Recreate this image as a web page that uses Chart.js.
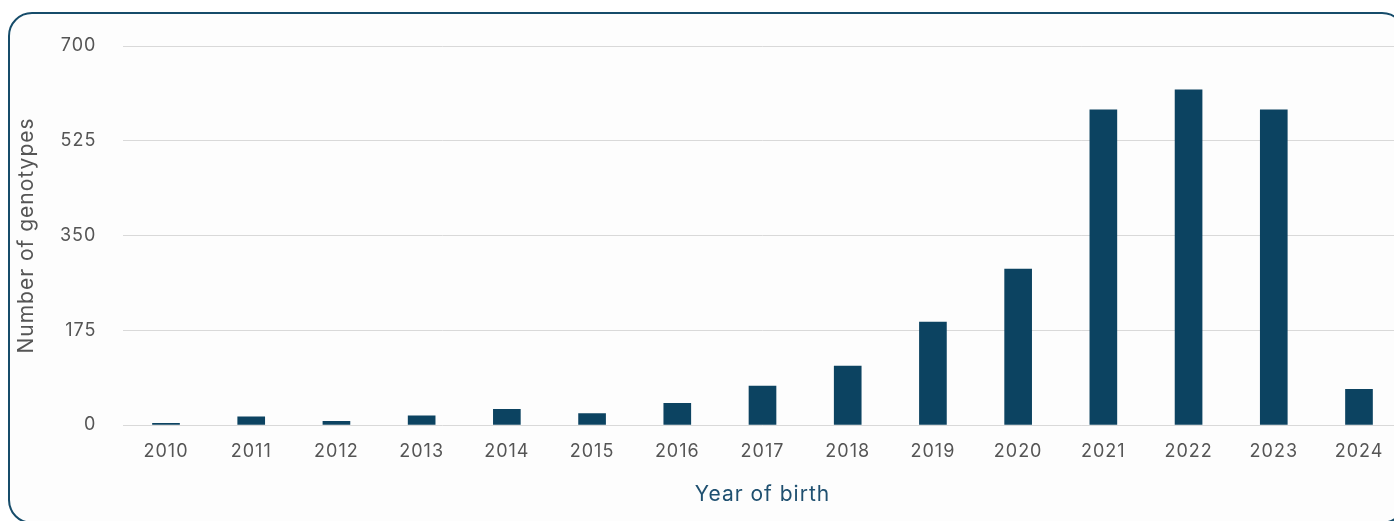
<!DOCTYPE html>
<html>
<head>
<meta charset="utf-8">
<script src="https://cdn.jsdelivr.net/npm/chart.js@4.4.1/dist/chart.umd.min.js"></script>
<style>
  html, body { margin: 0; padding: 0; background: #ffffff; overflow: hidden; width: 1394px; height: 521px; }
  #box {
    position: absolute; left: 8px; top: 12px; width: 1398px; height: 512px;
    border: 2.5px solid #164c6a; border-radius: 24px; background: #fdfdfd; box-sizing: border-box;
  }
  #wrap { position: absolute; left: 0; top: 0; width: 1410px; height: 521px; }
</style>
</head>
<body>
<div id="box"></div>
<div id="wrap"><canvas id="c"></canvas></div>
<script>
const categories = ['2010','2011','2012','2013','2014','2015','2016','2017','2018','2019','2020','2021','2022','2023','2024'];
const genotypes = [3, 15, 7, 17, 29, 21, 40, 72, 109, 190, 288, 582, 619, 582, 66];
const yTickValues = [0, 175, 350, 525, 700];
const xTitle = 'Year of birth';
const yTitle = 'Number of genotypes';

Chart.defaults.font.family = 'Inter, "DejaVu Sans", sans-serif';

const spacingPlugin = {
  id: 'spacing',
  beforeDraw(chart) { chart.ctx.letterSpacing = '1px'; }
};

new Chart(document.getElementById('c'), {
  type: 'bar',
  data: {
    labels: categories,
    datasets: [{
      data: genotypes,
      backgroundColor: '#0c4361',
      barThickness: 27
    }]
  },
  plugins: [spacingPlugin],
  options: {
    responsive: true,
    maintainAspectRatio: false,
    animation: false,
    layout: { padding: { top: 46, right: 8.4, bottom: 0, left: 0 } },
    plugins: { legend: { display: false }, tooltip: { enabled: false } },
    scales: {
      x: {
        grid: { display: false },
        border: { display: false },
        ticks: { color: '#555555', font: { size: 18 }, padding: 8, maxRotation: 0 },
        title: { display: true, text: xTitle, color: '#1f5070', font: { size: 21 }, padding: { top: 0, bottom: 13.5 } },
        afterFit(s) { s.height = 96; }
      },
      y: {
        min: 0, max: 700,
        afterBuildTicks(s) { s.ticks = yTickValues.map(v => ({ value: v })); },
        grid: { color: '#d9d9d9', lineWidth: 1, drawTicks: false },
        border: { display: false },
        ticks: { color: '#555555', font: { size: 18 }, padding: 27 },
        title: { display: true, text: yTitle, color: '#555555', font: { size: 21 }, padding: { top: 14, bottom: 0 } },
        afterFit(s) { s.width = 123.4; }
      }
    }
  }
});
</script>
</body>
</html>
